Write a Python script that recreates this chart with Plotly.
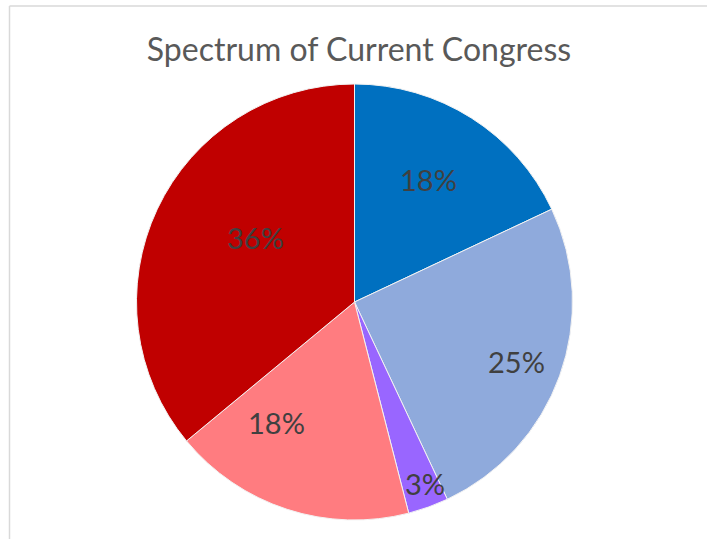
import math
import plotly.graph_objects as go

# Share of seats across the political spectrum (clockwise from 12 o'clock)
groups = ["Liberal", "Lean Liberal", "Moderate", "Lean Conservative", "Conservative"]
shares = [18, 25, 3, 18, 36]
colors = ["#0070C0", "#8FAADC", "#9966FF", "#FF7C80", "#C00000"]
# Label placement: distance from centre (fraction of radius) and angular nudge from mid-slice (degrees)
label_radius = [0.655, 0.79, 0.895, 0.66, 0.54]
label_nudge = [-1.3, 0.5, -1.4, 15, 8]

W, H = 707, 539
cx, cy, R = 354.5, 302, 218  # pie centre and radius in pixels

dom_x = [(cx - R) / W, (cx + R) / W]
dom_y = [(H - cy - R) / H, (H - cy + R) / H]

total = sum(shares)
font = "Lato, 'Open Sans', sans-serif"

fig = go.Figure()
fig.add_trace(go.Pie(
    labels=groups,
    values=shares,
    sort=False,
    direction="clockwise",
    rotation=0,
    marker=dict(colors=colors, line=dict(color="#F2F2F2", width=1)),
    textinfo="none",
    hoverinfo="label+percent",
    showlegend=False,
    domain=dict(x=dom_x, y=dom_y),
))

# Percent labels around each slice's mid-angle
annotations = []
acc = 0
for s, f, nudge in zip(shares, label_radius, label_nudge):
    theta = math.radians((acc + s / 2) / total * 360 + nudge)
    acc += s
    px = cx + f * R * math.sin(theta)
    py = cy - f * R * math.cos(theta)
    annotations.append(dict(
        x=px / W, y=1 - py / H, xref="paper", yref="paper",
        text=f"{round(s / total * 100)}%", showarrow=False,
        xanchor="center", yanchor="middle",
        font=dict(family=font, size=29, color="#404040"),
    ))

fig.update_layout(
    width=W, height=H,
    margin=dict(l=0, r=0, t=0, b=0),
    paper_bgcolor="white",
    plot_bgcolor="white",
    title=dict(
        text="Spectrum of Current Congress",
        x=359 / W, xanchor="center",
        y=1 - 50 / H, yanchor="middle",
        font=dict(family=font, size=32, color="#595959"),
    ),
    annotations=annotations,
    shapes=[
        dict(type="line", xref="paper", yref="paper",
             x0=9.5 / W, x1=9.5 / W, y0=0, y1=1 - 6 / H,
             line=dict(color="#D9D9D9", width=1.5)),
        dict(type="line", xref="paper", yref="paper",
             x0=9.5 / W, x1=1, y0=1 - 6 / H, y1=1 - 6 / H,
             line=dict(color="#D9D9D9", width=1.5)),
    ],
)

fig.write_html("out.html")
